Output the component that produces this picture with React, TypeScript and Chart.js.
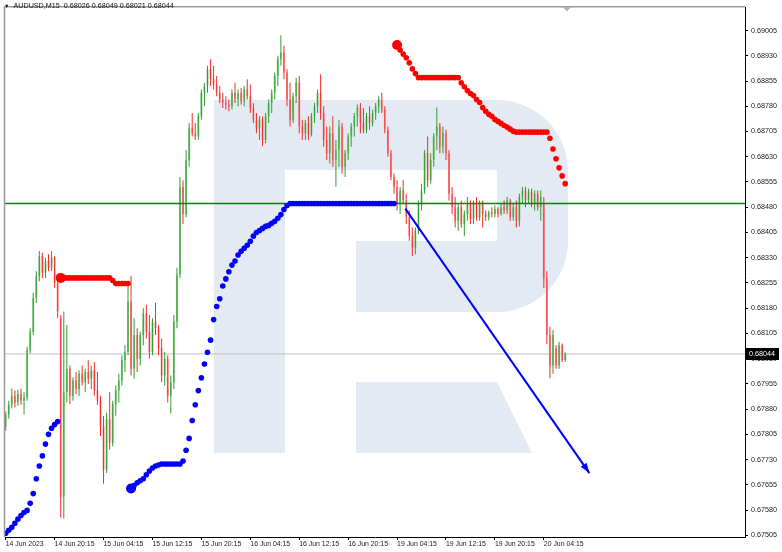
import React, { useEffect, useRef } from "react";
import { Chart, registerables } from "chart.js";

Chart.register(...registerables);

// ---- data ----
const symbolTitle = "AUDUSD,M15";
const lastQuote = ["0.68026", "0.68049", "0.68021", "0.68044"];

const opens = [
  0.67828,0.67864,0.67893,0.67920,0.67900,0.67925,0.67905,0.67915,0.68055,0.68110,
  0.68210,0.68275,0.68335,0.68285,0.68320,0.68300,0.68330,0.68255,0.68150,0.67620,
  0.67930,0.68000,0.67920,0.67965,0.67940,0.67985,0.67960,0.67990,0.67970,0.67995,
  0.67935,0.67905,0.67830,0.67700,0.67850,0.67780,0.67895,0.67935,0.67965,0.68025,
  0.68050,0.68200,0.68000,0.68100,0.68030,0.68100,0.68165,0.68110,0.68050,0.68140,
  0.68120,0.68060,0.67980,0.68030,0.67920,0.67960,0.68140,0.68280,0.68540,0.68460,
  0.68620,0.68715,0.68700,0.68690,0.68750,0.68820,0.68840,0.68890,0.68860,0.68845,
  0.68820,0.68800,0.68790,0.68785,0.68780,0.68820,0.68800,0.68820,0.68795,0.68830,
  0.68810,0.68775,0.68740,0.68715,0.68740,0.68680,0.68750,0.68790,0.68820,0.68870,
  0.68920,0.68940,0.68880,0.68800,0.68740,0.68810,0.68850,0.68720,0.68700,0.68730,
  0.68695,0.68750,0.68780,0.68820,0.68760,0.68680,0.68640,0.68700,0.68620,0.68650,
  0.68720,0.68600,0.68640,0.68690,0.68720,0.68750,0.68775,0.68730,0.68710,0.68750,
  0.68730,0.68760,0.68780,0.68800,0.68770,0.68710,0.68640,0.68570,0.68540,0.68490,
  0.68530,0.68500,0.68450,0.68395,0.68360,0.68410,0.68490,0.68530,0.68640,0.68560,
  0.68620,0.68690,0.68720,0.68660,0.68700,0.68640,0.68520,0.68480,0.68440,0.68480,
  0.68430,0.68460,0.68490,0.68445,0.68490,0.68450,0.68495,0.68460,0.68450,0.68465,
  0.68460,0.68475,0.68460,0.68480,0.68470,0.68500,0.68450,0.68480,0.68440,0.68510,
  0.68530,0.68500,0.68525,0.68490,0.68520,0.68480,0.68490,0.68270,0.68100,0.68010,
  0.68060,0.68010,0.68070,0.68026,
];
const highs = [
  0.67873,0.67905,0.67941,0.67935,0.67938,0.67941,0.67930,0.68065,0.68120,0.68226,
  0.68290,0.68350,0.68345,0.68330,0.68340,0.68350,0.68335,0.68260,0.68160,0.68170,
  0.68130,0.68010,0.67975,0.67990,0.67995,0.68010,0.68000,0.68025,0.68010,0.68020,
  0.67990,0.67920,0.67860,0.67870,0.67930,0.67905,0.67950,0.67985,0.68040,0.68070,
  0.68245,0.68276,0.68150,0.68120,0.68110,0.68180,0.68190,0.68160,0.68150,0.68196,
  0.68130,0.68090,0.68050,0.68040,0.67980,0.68160,0.68300,0.68570,0.68560,0.68650,
  0.68730,0.68760,0.68730,0.68760,0.68830,0.68850,0.68900,0.68920,0.68900,0.68870,
  0.68840,0.68820,0.68810,0.68800,0.68830,0.68850,0.68830,0.68835,0.68840,0.68860,
  0.68845,0.68790,0.68760,0.68750,0.68750,0.68760,0.68800,0.68830,0.68880,0.68930,
  0.68991,0.68960,0.68890,0.68850,0.68820,0.68865,0.68870,0.68740,0.68740,0.68750,
  0.68760,0.68790,0.68830,0.68875,0.68780,0.68720,0.68720,0.68750,0.68680,0.68740,
  0.68730,0.68650,0.68700,0.68730,0.68760,0.68785,0.68790,0.68775,0.68760,0.68780,
  0.68770,0.68790,0.68810,0.68820,0.68780,0.68720,0.68650,0.68580,0.68560,0.68540,
  0.68560,0.68520,0.68470,0.68420,0.68420,0.68500,0.68550,0.68650,0.68690,0.68640,
  0.68700,0.68776,0.68730,0.68720,0.68710,0.68650,0.68540,0.68510,0.68490,0.68500,
  0.68470,0.68510,0.68500,0.68500,0.68510,0.68500,0.68500,0.68470,0.68470,0.68480,
  0.68485,0.68480,0.68490,0.68500,0.68510,0.68505,0.68490,0.68500,0.68520,0.68540,
  0.68541,0.68535,0.68535,0.68530,0.68530,0.68530,0.68510,0.68290,0.68125,0.68115,
  0.68070,0.68080,0.68075,0.68049,
];
const lows = [
  0.67816,0.67852,0.67882,0.67885,0.67890,0.67893,0.67864,0.67905,0.68045,0.68100,
  0.68195,0.68260,0.68270,0.68270,0.68290,0.68290,0.68240,0.68150,0.67558,0.67555,
  0.67900,0.67895,0.67905,0.67925,0.67920,0.67950,0.67930,0.67955,0.67940,0.67920,
  0.67893,0.67800,0.67658,0.67690,0.67760,0.67770,0.67860,0.67900,0.67950,0.67990,
  0.68040,0.67980,0.67970,0.67990,0.68010,0.68070,0.68090,0.68030,0.68040,0.68100,
  0.68040,0.67960,0.67950,0.67900,0.67867,0.67940,0.68120,0.68270,0.68430,0.68450,
  0.68600,0.68690,0.68680,0.68680,0.68740,0.68780,0.68820,0.68840,0.68830,0.68810,
  0.68790,0.68775,0.68770,0.68765,0.68770,0.68790,0.68780,0.68785,0.68780,0.68800,
  0.68760,0.68730,0.68700,0.68680,0.68662,0.68670,0.68730,0.68760,0.68800,0.68840,
  0.68900,0.68860,0.68780,0.68720,0.68730,0.68790,0.68700,0.68680,0.68680,0.68680,
  0.68690,0.68730,0.68760,0.68740,0.68660,0.68620,0.68610,0.68600,0.68541,0.68600,
  0.68580,0.68570,0.68620,0.68660,0.68690,0.68720,0.68700,0.68700,0.68700,0.68710,
  0.68720,0.68740,0.68760,0.68760,0.68700,0.68630,0.68560,0.68520,0.68470,0.68460,
  0.68490,0.68430,0.68380,0.68335,0.68340,0.68400,0.68470,0.68520,0.68540,0.68550,
  0.68600,0.68650,0.68640,0.68640,0.68620,0.68500,0.68460,0.68420,0.68410,0.68420,
  0.68394,0.68440,0.68430,0.68430,0.68440,0.68440,0.68420,0.68440,0.68440,0.68450,
  0.68450,0.68450,0.68455,0.68460,0.68460,0.68440,0.68440,0.68420,0.68423,0.68490,
  0.68480,0.68490,0.68480,0.68470,0.68470,0.68440,0.68240,0.68073,0.67972,0.67985,
  0.68000,0.68000,0.68020,0.68021,
];
const closes = [
  0.67864,0.67893,0.67920,0.67900,0.67925,0.67905,0.67915,0.68055,0.68110,0.68210,
  0.68275,0.68335,0.68285,0.68320,0.68300,0.68330,0.68255,0.68170,0.67620,0.67930,
  0.68000,0.67920,0.67965,0.67940,0.67985,0.67960,0.67990,0.67970,0.67995,0.67935,
  0.67905,0.67830,0.67700,0.67850,0.67780,0.67895,0.67935,0.67965,0.68025,0.68050,
  0.68200,0.68000,0.68100,0.68030,0.68100,0.68165,0.68110,0.68050,0.68140,0.68120,
  0.68060,0.67980,0.68030,0.67920,0.67960,0.68140,0.68280,0.68540,0.68460,0.68620,
  0.68715,0.68700,0.68690,0.68750,0.68820,0.68840,0.68890,0.68860,0.68845,0.68820,
  0.68800,0.68790,0.68785,0.68780,0.68820,0.68800,0.68820,0.68795,0.68830,0.68810,
  0.68775,0.68740,0.68715,0.68740,0.68680,0.68750,0.68790,0.68820,0.68870,0.68920,
  0.68940,0.68880,0.68800,0.68740,0.68810,0.68850,0.68720,0.68700,0.68730,0.68695,
  0.68750,0.68780,0.68820,0.68760,0.68680,0.68640,0.68700,0.68620,0.68650,0.68720,
  0.68600,0.68640,0.68690,0.68720,0.68750,0.68775,0.68730,0.68710,0.68750,0.68730,
  0.68760,0.68780,0.68800,0.68770,0.68710,0.68640,0.68570,0.68540,0.68490,0.68530,
  0.68500,0.68450,0.68395,0.68360,0.68410,0.68490,0.68530,0.68640,0.68560,0.68620,
  0.68690,0.68720,0.68660,0.68700,0.68640,0.68520,0.68480,0.68440,0.68480,0.68430,
  0.68460,0.68490,0.68445,0.68490,0.68450,0.68495,0.68460,0.68450,0.68465,0.68460,
  0.68475,0.68460,0.68480,0.68470,0.68500,0.68450,0.68480,0.68440,0.68510,0.68530,
  0.68500,0.68525,0.68490,0.68520,0.68480,0.68510,0.68270,0.68100,0.68010,0.68100,
  0.68010,0.68070,0.68026,0.68044,
];

// Parabolic SAR segments (start bar index + values)
const sarBlue1Start = 0;
const sarBlue1 = [
  0.67511,0.67520,0.67529,0.67541,0.67553,0.67564,0.67573,0.67579,0.67600,0.67629,
  0.67673,0.67711,0.67741,0.67776,0.67805,0.67823,0.67834,0.67843,
];
const sarRed1Start = 18;
const sarRed1 = [
  0.68270,0.68270,0.68270,0.68270,0.68270,0.68270,0.68270,0.68270,0.68270,0.68270,
  0.68270,0.68270,0.68270,0.68270,0.68270,0.68270,0.68270,0.68262,0.68253,0.68253,
  0.68253,0.68253,0.68253,
];
const sarBlue2Start = 41;
const sarBlue2 = [
  0.67644,0.67653,0.67661,0.67667,0.67673,0.67685,0.67696,0.67705,0.67711,0.67714,
  0.67717,0.67717,0.67717,0.67717,0.67717,0.67717,0.67717,0.67726,0.67758,0.67793,
  0.67846,0.67893,0.67935,0.67973,0.68014,0.68049,0.68085,0.68146,0.68185,0.68208,
  0.68246,0.68267,0.68288,0.68308,0.68320,0.68338,0.68349,0.68358,0.68367,0.68379,
  0.68394,0.68405,0.68411,0.68417,0.68423,0.68426,0.68432,0.68438,0.68447,0.68458,
  0.68473,0.68485,0.68491,0.68491,0.68491,0.68491,0.68491,0.68491,0.68491,0.68491,
  0.68491,0.68491,0.68491,0.68491,0.68491,0.68491,0.68491,0.68491,0.68491,0.68491,
  0.68491,0.68491,0.68491,0.68491,0.68491,0.68491,0.68491,0.68491,0.68491,0.68491,
  0.68491,0.68491,0.68491,0.68491,0.68491,0.68491,0.68491,
];
const sarRed2Start = 128;
const sarRed2 = [
  0.68962,0.68947,0.68935,0.68924,0.68909,0.68891,0.68877,0.68865,0.68865,0.68865,
  0.68865,0.68865,0.68865,0.68865,0.68865,0.68865,0.68865,0.68865,0.68865,0.68865,
  0.68865,0.68850,0.68838,0.68827,0.68818,0.68812,0.68800,0.68791,0.68776,0.68765,
  0.68756,0.68750,0.68741,0.68735,0.68729,0.68723,0.68718,0.68712,0.68706,0.68703,
  0.68703,0.68703,0.68703,0.68703,0.68703,0.68703,0.68703,0.68703,0.68703,0.68703,
  0.68685,0.68653,0.68624,0.68597,0.68573,0.68550,
];

// Drawn objects
const levelPrice = 0.68491;
const bidPrice = 0.68044;
const arrowX = [130.7, 190.9];
const arrowY = [0.68476, 0.6769];

// Axes
const timeTickIdx = [0, 16, 32, 48, 64, 80, 96, 112, 128, 144, 160, 176];
const timeLabels = [
  "14 Jun 2023", "14 Jun 20:15", "15 Jun 04:15", "15 Jun 12:15", "15 Jun 20:15",
  "16 Jun 04:15", "16 Jun 12:15", "16 Jun 20:15", "19 Jun 04:15", "19 Jun 12:15",
  "19 Jun 20:15", "20 Jun 04:15",
];
const priceTicks = [
  0.67505, 0.6758, 0.67655, 0.6773, 0.67805, 0.6788, 0.67955, 0.6803, 0.68105, 0.6818,
  0.68255, 0.6833, 0.68405, 0.6848, 0.68555, 0.6863, 0.68705, 0.6878, 0.68855, 0.6893,
  0.69005,
];
const xMin = -0.23;
const xMax = 241.8;
const yMin = 0.675;
const yMax = 0.69074;

const FONT = "'Liberation Sans', Arial, sans-serif";
const UP_WICK = "#2f9e2f";
const UP_BODY = "#8fcc8f";
const DN_WICK = "#f52a2a";
const DN_BODY = "#f5a3a3";

export default function App() {
  const ref = useRef<HTMLCanvasElement>(null);

  useEffect(() => {
    if (!ref.current) return;
    const wickData = opens.map((o, i) => ({ x: i, y: [lows[i], highs[i]], up: closes[i] >= o }));
    const bodyData = opens.map((o, i) => ({
      x: i,
      y: [Math.min(o, closes[i]), Math.max(o, closes[i])],
      up: closes[i] >= o,
    }));
    const seg = (start: number, vals: number[]) => vals.map((v, j) => ({ x: start + j, y: v }));

    const sarDataset = (start: number, vals: number[], color: string, big: boolean) => ({
      type: "line" as const,
      data: seg(start, vals),
      showLine: false,
      pointBackgroundColor: color,
      pointBorderColor: color,
      pointBorderWidth: 0,
      pointRadius: (c: any) => (big && c.dataIndex === 0 ? 5 : 2.8),
      pointHoverRadius: 0,
      order: 1,
    });

    const logoPlugin = {
      id: "logo",
      beforeDatasetsDraw(chart: any) {
        const ctx = chart.ctx;
        ctx.save();
        ctx.fillStyle = "#e4eaf4";
        ctx.beginPath();
        ctx.moveTo(214, 100);
        ctx.lineTo(497, 100);
        ctx.arc(497, 171, 71, -Math.PI / 2, 0);
        ctx.lineTo(568, 241);
        ctx.arc(497, 241, 71, 0, Math.PI / 2);
        ctx.lineTo(356, 312);
        ctx.lineTo(356, 241);
        ctx.lineTo(497, 241);
        ctx.lineTo(497, 170);
        ctx.lineTo(285, 170);
        ctx.lineTo(285, 453);
        ctx.lineTo(214, 453);
        ctx.closePath();
        ctx.fill();
        ctx.beginPath();
        ctx.moveTo(356, 382);
        ctx.lineTo(497, 382);
        ctx.lineTo(532, 453);
        ctx.lineTo(356, 453);
        ctx.closePath();
        ctx.fill();
        ctx.restore();
      },
    };

    const decoPlugin = {
      id: "deco",
      beforeDraw(chart: any) {
        const ctx = chart.ctx;
        ctx.save();
        ctx.fillStyle = "#ffffff";
        ctx.fillRect(0, 0, chart.width, chart.height);
        ctx.restore();
      },
      afterDatasetsDraw(chart: any) {
        const ctx = chart.ctx;
        const meta = chart.getDatasetMeta(0);
        const p0 = meta.data[0];
        const p1 = meta.data[1];
        if (!p0 || !p1) return;
        const ang = Math.atan2(p1.y - p0.y, p1.x - p0.x);
        const len = 10;
        const w = 3.5;
        const bx = p1.x - len * Math.cos(ang);
        const by = p1.y - len * Math.sin(ang);
        ctx.save();
        ctx.fillStyle = "#0000ff";
        ctx.beginPath();
        ctx.moveTo(p1.x, p1.y);
        ctx.lineTo(bx + w * Math.sin(ang), by - w * Math.cos(ang));
        ctx.lineTo(bx - w * Math.sin(ang), by + w * Math.cos(ang));
        ctx.closePath();
        ctx.fill();
        ctx.restore();
      },
      afterDraw(chart: any) {
        const ctx = chart.ctx;
        const a = chart.chartArea;
        ctx.save();
        ctx.strokeStyle = "#9a9a9a";
        ctx.lineWidth = 1.5;
        ctx.beginPath();
        ctx.moveTo(a.left - 0.5, a.bottom);
        ctx.lineTo(a.left - 0.5, a.top - 0.5);
        ctx.lineTo(a.right, a.top - 0.5);
        ctx.stroke();
        ctx.fillStyle = "#b0b0b0";
        ctx.beginPath();
        ctx.moveTo(563, a.top);
        ctx.lineTo(571, a.top);
        ctx.lineTo(567, a.top + 4);
        ctx.closePath();
        ctx.fill();
        const y = chart.scales.y.getPixelForValue(bidPrice);
        ctx.fillStyle = "#000000";
        ctx.fillRect(a.right + 1, Math.round(y) - 6, 33, 12);
        ctx.fillStyle = "#ffffff";
        ctx.font = `7.2px ${FONT}`;
        ctx.textBaseline = "middle";
        ctx.textAlign = "left";
        ctx.fillText(bidPrice.toFixed(5), a.right + 4, Math.round(y) + 0.5);
        ctx.restore();
      },
    };

    const chart = new Chart(ref.current, {
      type: "bar",
      data: {
        datasets: [
          {
            type: "line",
            data: arrowX.map((x, i) => ({ x, y: arrowY[i] })),
            borderColor: "#0000ff",
            borderWidth: 2,
            pointRadius: 0,
            order: 0,
          } as any,
          sarDataset(sarBlue1Start, sarBlue1, "#0000ff", false) as any,
          sarDataset(sarRed1Start, sarRed1, "#ff0000", true) as any,
          sarDataset(sarBlue2Start, sarBlue2, "#0000ff", true) as any,
          sarDataset(sarRed2Start, sarRed2, "#ff0000", true) as any,
          {
            type: "line",
            data: [{ x: xMin, y: levelPrice }, { x: xMax, y: levelPrice }],
            borderColor: "#0a800a",
            borderWidth: 1.5,
            pointRadius: 0,
            order: 2,
          } as any,
          {
            type: "bar",
            data: wickData,
            backgroundColor: (c: any) => (c.raw && c.raw.up ? UP_WICK : DN_WICK),
            barThickness: 1,
            grouped: false,
            borderWidth: 0,
            inflateAmount: 0,
            order: 4,
          } as any,
          {
            type: "bar",
            data: bodyData,
            backgroundColor: (c: any) => (c.raw && c.raw.up ? UP_BODY : DN_BODY),
            barThickness: 2,
            grouped: false,
            borderWidth: 0,
            inflateAmount: 0,
            minBarLength: 1,
            order: 5,
          } as any,
          {
            type: "line",
            data: [{ x: xMin, y: bidPrice }, { x: xMax, y: bidPrice }],
            borderColor: "#c0c0c0",
            borderWidth: 1,
            pointRadius: 0,
            order: 6,
          } as any,
        ],
      },
      options: {
        animation: false,
        responsive: false,
        maintainAspectRatio: false,
        devicePixelRatio: 1,
        events: [],
        layout: { padding: { left: 2, top: 2, right: 0, bottom: 0 } },
        plugins: { legend: { display: false }, tooltip: { enabled: false }, title: { display: false } },
        scales: {
          x: {
            type: "linear",
            min: xMin,
            max: xMax,
            offset: false,
            afterBuildTicks: (s: any) => {
              s.ticks = timeTickIdx.map((v) => ({ value: v }));
            },
            afterFit: (s: any) => {
              s.height = 15;
            },
            ticks: {
              autoSkip: false,
              maxRotation: 0,
              minRotation: 0,
              align: "start",
              padding: 0,
              color: "#1a1a1a",
              font: { family: FONT, size: 6.9 },
              callback: (v: any) => {
                const k = timeTickIdx.indexOf(Number(v));
                return k >= 0 ? timeLabels[k] : "";
              },
            },
            grid: { drawOnChartArea: false, drawTicks: true, tickLength: 3, color: "#000000", offset: false },
            border: { display: true, color: "#000000", width: 1 },
          },
          y: {
            type: "linear",
            position: "right",
            min: yMin,
            max: yMax,
            afterBuildTicks: (s: any) => {
              s.ticks = priceTicks.map((v) => ({ value: v }));
            },
            afterFit: (s: any) => {
              s.width = 37;
            },
            ticks: {
              autoSkip: false,
              padding: 3,
              color: "#1a1a1a",
              font: { family: FONT, size: 7.2 },
              callback: (v: any) => Number(v).toFixed(5),
            },
            grid: { drawOnChartArea: false, drawTicks: true, tickLength: 3, color: "#000000" },
            border: { display: true, color: "#000000", width: 1 },
          },
        },
      } as any,
      plugins: [logoPlugin, decoPlugin],
    });

    return () => chart.destroy();
  }, []);

  return (
    <div style={{ position: "fixed", left: 0, top: 0, width: 782, height: 552, background: "#fff", overflow: "hidden" }}>
      <canvas ref={ref} width={782} height={552} style={{ display: "block", width: 782, height: 552 }} />
      <div
        style={{
          position: "absolute",
          left: 4,
          top: 1,
          fontFamily: FONT,
          fontSize: "7.2px",
          lineHeight: "9px",
          color: "#111",
          whiteSpace: "pre",
        }}
      >
        <span style={{ fontSize: "5.5px", marginRight: 4 }}>▼</span>
        {symbolTitle + "  " + lastQuote.join(" ")}
      </div>
    </div>
  );
}
